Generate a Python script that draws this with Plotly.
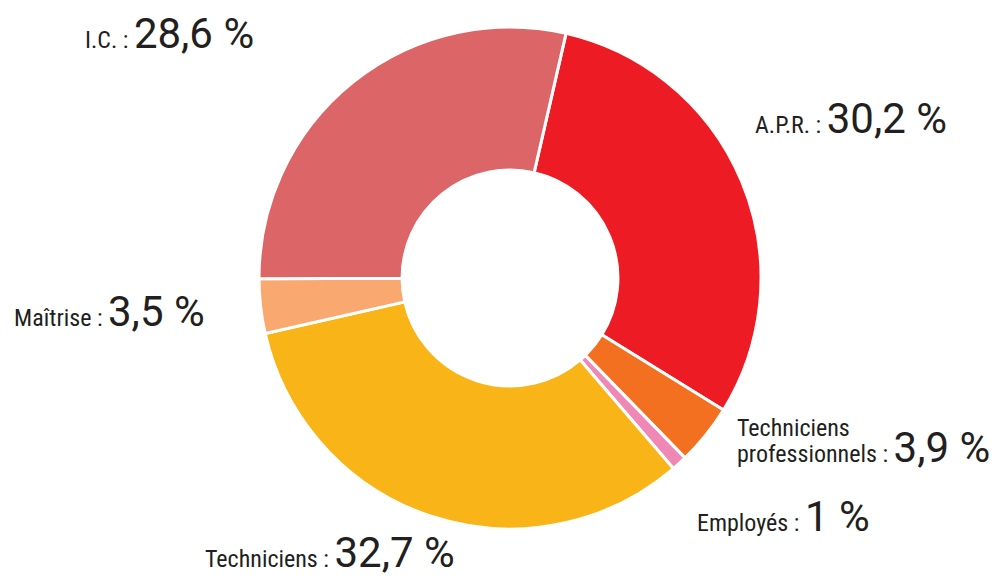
import plotly.graph_objects as go

categories = ["A.P.R.", "Techniciens professionnels", "Employés", "Techniciens", "Maîtrise", "I.C."]
values = [30.2, 3.9, 1, 32.7, 3.5, 28.6]
colors = ["#ED1C24", "#F37021", "#F088B6", "#F9B417", "#F9A870", "#DC6567"]

W, H = 1000, 583
NUM_FONT = "Roboto, Liberation Sans, sans-serif"
LBL_FONT = "Roboto Condensed"
INK = "#231F20"
BIG, SMALL = 42, 24

cx, cy, r = 510, 278, 251

fig = go.Figure(go.Pie(
    labels=categories,
    values=values,
    marker=dict(colors=colors, line=dict(color="white", width=3)),
    hole=0.43,
    sort=False,
    direction="clockwise",
    rotation=12.9,
    textinfo="none",
    hoverinfo="label+percent",
    showlegend=False,
    domain=dict(x=[(cx - r) / W, (cx + r) / W], y=[(H - cy - r) / H, (H - cy + r) / H]),
))

def fmt(v):
    return f"{v:g}".replace(".", ",") + " %"

def lbl(t):
    return f'<span style="font-family:{LBL_FONT};font-size:{SMALL}px">{t}</span>'

def py(baseline, size):
    # paper y of annotation box bottom for a given text baseline (px from top)
    return (H - (baseline + 0.24 * size + 1)) / H

# label positions (pixel: left x, baseline y)
pos = {
    "A.P.R.": (753, 134),
    "Employés": (695, 532),
    "Techniciens": (203, 568),
    "Maîtrise": (12, 327),
    "I.C.": (83, 49),
}

for cat, v in zip(categories, values):
    if cat in pos:
        x, b = pos[cat]
        fig.add_annotation(
            x=x / W, y=py(b, BIG), xref="paper", yref="paper",
            xanchor="left", yanchor="bottom", showarrow=False,
            text=lbl(f"{cat} : ") + fmt(v),
            font=dict(family=NUM_FONT, size=BIG, color=INK),
        )
    elif cat == "Techniciens professionnels":
        w1, w2 = cat.split(" ")
        fig.add_annotation(
            x=735 / W, y=py(437, SMALL), xref="paper", yref="paper",
            xanchor="left", yanchor="bottom", showarrow=False,
            text=w1, font=dict(family=LBL_FONT, size=SMALL, color=INK),
        )
        fig.add_annotation(
            x=735 / W, y=py(463, BIG), xref="paper", yref="paper",
            xanchor="left", yanchor="bottom", showarrow=False,
            text=lbl(f"{w2} : ") + fmt(v),
            font=dict(family=NUM_FONT, size=BIG, color=INK),
        )

fig.update_layout(
    width=W, height=H,
    margin=dict(l=0, r=0, t=0, b=0),
    paper_bgcolor="white", plot_bgcolor="white",
)

fig.write_html("out.html", config={"displayModeBar": False},
               post_script="document.body.style.margin='0';")
